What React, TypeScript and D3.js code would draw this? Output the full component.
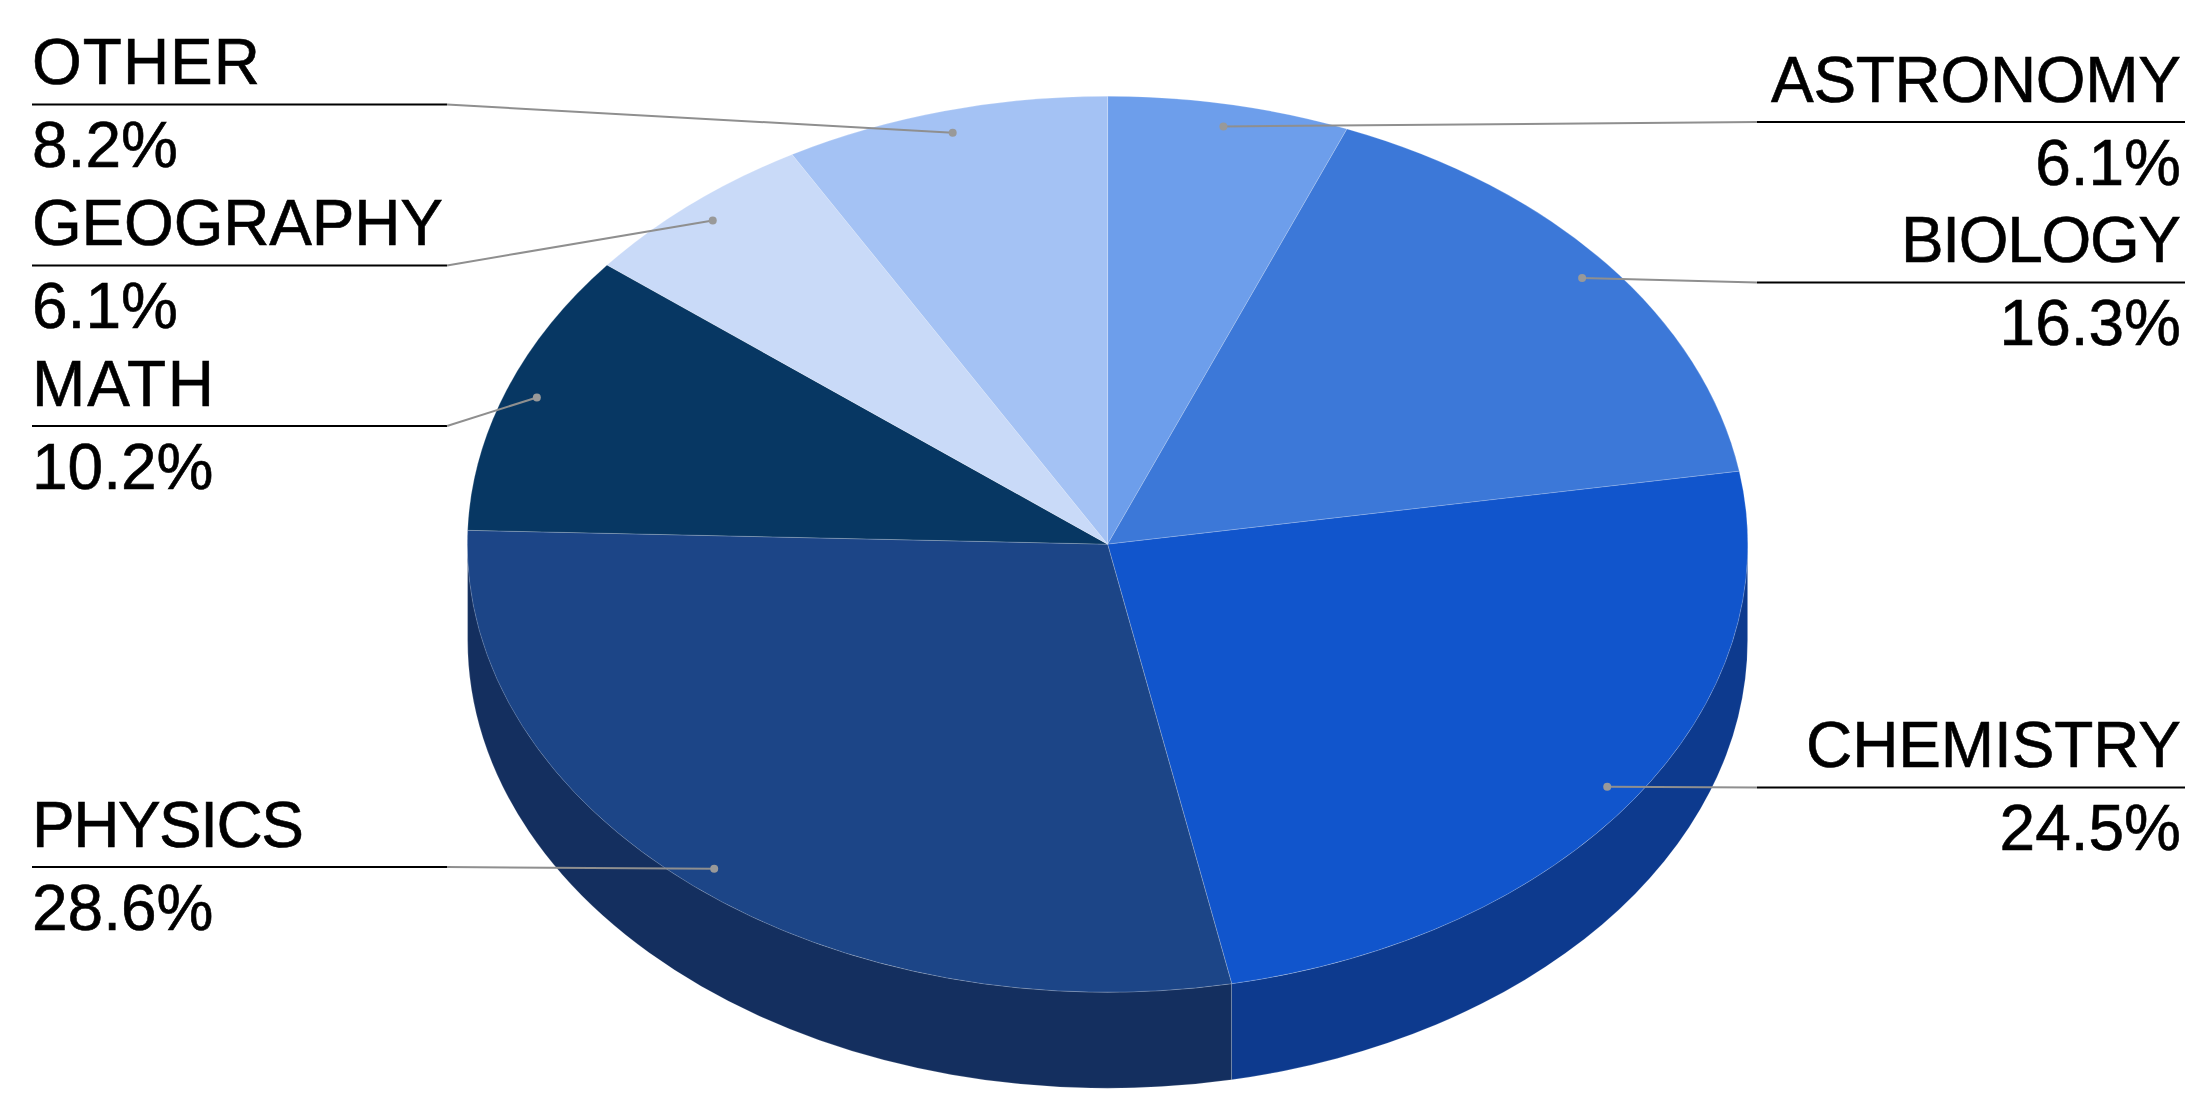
import React, { useRef, useEffect } from 'react'
import * as d3 from 'd3'

const categories = ['ASTRONOMY', 'BIOLOGY', 'CHEMISTRY', 'PHYSICS', 'MATH', 'GEOGRAPHY', 'OTHER']
const shares = [6.1, 16.3, 24.5, 28.6, 10.2, 6.1, 8.2]
const topColors = ['#6d9eeb', '#3c78d8', '#1155cc', '#1c4587', '#073763', '#c9daf8', '#a4c2f4']
const wallColors = ['#4c6ea4', '#2a5497', '#0d3a8e', '#142f5f', '#07264a', '#8c98ad', '#7287aa']

// y of the rule under each label, same order as categories
const labelRuleY = [122, 282.5, 787.5, 867, 426, 265.4, 104.6]
// the reference's label widths, its font runs a little different from Liberation
const labelWidths = [410, 280, 375, 272, 182, 411, 228]

const WIDTH = 2208
const HEIGHT = 1120
const CX = 1107.6
const CY = 544.2
const RX = 640
const RY = 448
const DEPTH = 96
const FONT = '"Liberation Sans", Arial, sans-serif'

const App = () => {
  const svgRef = useRef<SVGSVGElement>(null)

  useEffect(() => {
    const svg = d3.select(svgRef.current)
    svg.selectAll('*').remove()

    const slices = d3.pie<number>().sort(null)(shares)
    const arc = d3.arc<d3.PieArcDatum<number>>().innerRadius(0).outerRadius(1)

    const px = (t: number, r = 1) => CX + RX * r * Math.sin(t)
    const py = (t: number, r = 1) => CY - RY * r * Math.cos(t)

    // side wall, only the front half of the disc shows
    const walls = svg.append('g')
    slices.forEach((d, i) => {
      const a = Math.max(d.startAngle, Math.PI / 2)
      const b = Math.min(d.endAngle, (3 * Math.PI) / 2)
      if (b <= a) return
      const path =
        `M${px(a)},${py(a)} A${RX},${RY} 0 0 1 ${px(b)},${py(b)} ` +
        `L${px(b)},${py(b) + DEPTH} A${RX},${RY} 0 0 0 ${px(a)},${py(a) + DEPTH} Z`
      walls
        .append('path')
        .attr('d', path)
        .attr('fill', wallColors[i])
        .attr('stroke', 'rgba(255,255,255,0.16)')
        .attr('stroke-width', 1)
    })

    // top face: unit arcs stretched to the ellipse
    svg
      .append('g')
      .attr('transform', `translate(${CX},${CY}) scale(${RX},${RY})`)
      .selectAll('path')
      .data(slices)
      .enter()
      .append('path')
      .attr('d', (d) => arc(d))
      .attr('fill', (d, i) => topColors[i])
      .attr('stroke', 'rgba(255,255,255,0.2)')
      .attr('stroke-width', 1)
      .attr('vector-effect', 'non-scaling-stroke')

    // labels and leaders
    const labels = svg
      .append('g')
      .attr('font-family', FONT)
      .attr('font-size', 64)
      .attr('fill', '#000')
      .attr('stroke', '#000')
      .attr('stroke-width', 0.6)
    slices.forEach((d, i) => {
      const mid = (d.startAngle + d.endAngle) / 2
      const left = mid > Math.PI
      const y = labelRuleY[i]
      const textX = left ? 32 : 2181
      const ruleStart = left ? 32 : 2185
      const elbow = left ? 447 : 1757
      const dotX = px(mid, 0.95)
      const dotY = py(mid, 0.95)

      labels
        .append('line')
        .attr('x1', ruleStart)
        .attr('x2', elbow)
        .attr('y1', y)
        .attr('y2', y)
        .attr('stroke', '#000')
        .attr('stroke-width', 2)
      labels
        .append('line')
        .attr('x1', elbow)
        .attr('y1', y)
        .attr('x2', dotX)
        .attr('y2', dotY)
        .attr('stroke', '#8f8f8f')
        .attr('stroke-width', 2)
      labels
        .append('circle')
        .attr('cx', dotX)
        .attr('cy', dotY)
        .attr('r', 4)
        .attr('fill', '#999')
        .attr('stroke', 'none')

      labels
        .append('text')
        .attr('x', textX)
        .attr('y', y - 20.5)
        .attr('text-anchor', left ? 'start' : 'end')
        .attr('textLength', labelWidths[i])
        .attr('lengthAdjust', 'spacing')
        .text(categories[i])
      labels
        .append('text')
        .attr('x', textX)
        .attr('y', y + 62.5)
        .attr('text-anchor', left ? 'start' : 'end')
        .text(`${shares[i].toFixed(1)}%`)
    })
  }, [])

  return (
    <svg
      ref={svgRef}
      width={WIDTH}
      height={HEIGHT}
      style={{ position: 'absolute', left: 0, top: 0, background: '#fff' }}
    />
  )
}

export default App
